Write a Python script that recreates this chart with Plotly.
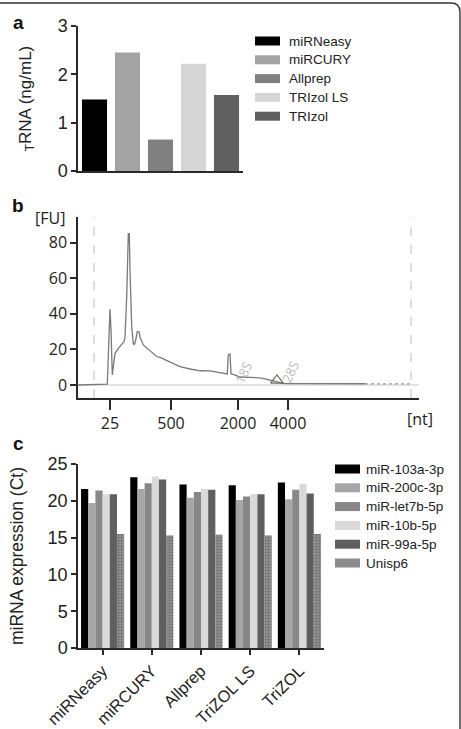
import plotly.graph_objects as go

W, H = 461, 729
def X(px): return px / W
def Y(py): return 1 - py / H

# ---------------- Panel a data ----------------
a_methods = ["miRNeasy", "miRCURY", "Allprep", "TRIzol LS", "TRIzol"]
a_values = [1.48, 2.45, 0.65, 2.22, 1.57]
a_colors = ["#000000", "#a3a3a3", "#808080", "#d6d6d6", "#606060"]

# ---------------- Panel b data (electropherogram) ----------------
b_pos = [0, 29.3, 32, 33, 34.3, 37, 40.3, 46, 47, 48.7, 50.3, 51.3, 52, 53, 53.7, 55.3, 56.3,
         57.7, 59.3, 61, 62, 65.3, 72, 78.7, 82, 92, 102, 112, 122, 132, 142, 149.3, 150.3,
         152, 153, 156, 162, 172, 182, 187, 193, 200, 206, 287]
b_fu = [0, 0.5, 42.5, 31, 5.6, 17.8, 20.6, 24.3, 27, 49.6, 85, 85, 64.6, 40, 32.8, 23.4, 22.5,
        25.3, 30, 30, 27, 22.5, 19, 16, 15.5, 13.1, 10.3, 9, 8, 7.9, 7.1, 6.2, 16.9,
        17.4, 6.2, 5.8, 4.5, 4.3, 4, 3.4, 2.5, 1.5, 0.8, 0.7]
b_tail_pos = [287, 312, 333]
b_tail_fu = [0.6, 0.6, 0.6]
b_range = [0, 341]
b_ladder_pos = [32, 93, 160, 210]
b_ladder_text = ["25", "500", "2000", "4000"]
b_minor_pos = [67, 125]
b_peak_pos = [152, 199]
b_dashed_pos = [16, 333]
b_marker_pos = [199]
b_marker_fu = [2.6]
b_label_text = ["18S", "28S"]
b_label_pos = [165, 212]
b_label_fu = [7.0, 7.5]

# ---------------- Panel c data ----------------
c_methods = ["miRNeasy", "miRCURY", "Allprep", "TriZOL LS", "TriZOL"]
c_series = ["miR-103a-3p", "miR-200c-3p", "miR-let7b-5p", "miR-10b-5p", "miR-99a-5p", "Unisp6"]
c_values = [
    [21.6, 23.2, 22.2, 22.1, 22.5],
    [19.7, 21.6, 20.4, 20.1, 20.2],
    [21.4, 22.4, 21.2, 20.6, 21.5],
    [20.9, 23.3, 21.6, 20.9, 22.3],
    [20.9, 22.9, 21.5, 20.9, 21.0],
    [15.5, 15.3, 15.4, 15.3, 15.5],
]
c_colors = ["#000000", "#a6a6a6", "#878787", "#d9d9d9", "#5f5f5f", "#8c8c8c"]

AF = "Liberation Sans, Arial, sans-serif"
BF = "Open Sans, DejaVu Sans, sans-serif"
TXT = "#222222"
AX = "#2a2a2a"

fig = go.Figure()

# Panel a bars
for name, v, col in zip(a_methods, a_values, a_colors):
    fig.add_trace(go.Bar(x=[name], y=[v], name=name, marker=dict(color=col, line=dict(width=0)),
                         width=0.76, offsetgroup="a", xaxis="x", yaxis="y", showlegend=False))

# Panel b
fig.add_trace(go.Scatter(x=b_range, y=[0, 0], mode="lines", line=dict(color="#c8c8c8", width=1.2),
                         xaxis="x2", yaxis="y2", showlegend=False, hoverinfo="skip"))
fig.add_trace(go.Scatter(x=b_pos, y=b_fu, mode="lines", line=dict(color="#7a7a7a", width=1.3),
                         xaxis="x2", yaxis="y2", showlegend=False))
fig.add_trace(go.Scatter(x=b_tail_pos, y=b_tail_fu, mode="lines",
                         line=dict(color="#9a9a9a", width=1.2, dash="dot"),
                         xaxis="x2", yaxis="y2", showlegend=False))
fig.add_trace(go.Scatter(x=b_marker_pos, y=b_marker_fu, mode="markers",
                         marker=dict(symbol="triangle-up-open", size=11, color="#6a6a6a",
                                     line=dict(width=1.2)),
                         xaxis="x2", yaxis="y2", showlegend=False))

# Panel c bars
ng = len(c_series)
bw = 0.146
for i, (name, vals, col) in enumerate(zip(c_series, c_values, c_colors)):
    marker = dict(color=col, line=dict(width=0))
    if name == "Unisp6":
        marker["pattern"] = dict(shape=".", fgcolor="#6a6a6a", bgcolor="#939393", size=3, solidity=0.4)
    fig.add_trace(go.Bar(x=c_methods, y=vals, name=name, marker=marker, width=bw,
                         offset=-ng * bw / 2 + i * bw, xaxis="x3", yaxis="y3", showlegend=False))

shapes = []
annotations = []

def note(text, px, py, size, family=AF, color=TXT, xanchor="center"):
    annotations.append(dict(text=text, xref="paper", yref="paper", x=X(px), y=Y(py),
                            xanchor=xanchor, yanchor="middle", showarrow=False,
                            font=dict(family=family, size=size, color=color)))

# Custom legends
def legend(names, colors, x_sw, x_txt, row0, step):
    for i, (n, c) in enumerate(zip(names, colors)):
        r = row0 + i * step
        shapes.append(dict(type="rect", xref="paper", yref="paper", x0=X(x_sw), x1=X(x_sw + 25),
                           y0=Y(r + 4.5), y1=Y(r - 4.5), fillcolor=c, line=dict(width=0)))
        note(n, x_txt, r, 13.5, xanchor="left")

legend(a_methods, a_colors, 255, 287, 41, 18.8)
legend(c_series, c_colors, 335, 364, 469, 18.8)

# dashed lines in b
for p in b_dashed_pos:
    shapes.append(dict(type="line", xref="x2", yref="y2 domain", x0=p, x1=p, y0=0, y1=1,
                       line=dict(color="#bdbdbd", width=1, dash="dash")))

# 18S / 28S labels
for t, p, v in zip(b_label_text, b_label_pos, b_label_fu):
    annotations.append(dict(text=t, xref="x2", yref="y2", x=p, y=v, showarrow=False, textangle=-65,
                            font=dict(family=BF, size=13, color="#bdbdbd")))

# border
shapes.append(dict(type="path", xref="paper", yref="paper",
                   path=f"M {X(0)},{Y(3)} L {X(451)},{Y(3)} Q {X(460)},{Y(3)} {X(460)},{Y(12)} L {X(460)},{Y(730)}",
                   line=dict(color="#333333", width=1.4)))

# panel letters
for t, px, py in [("a", 18, 22), ("b", 18, 206), ("c", 18, 443)]:
    note(f"<b>{t}</b>", px, py, 19, color="#111111")

note("[FU]", 50, 218, 16, family=BF)
note("[nt]", 420, 419, 16, family=BF)

axcommon = dict(showgrid=False, zeroline=False, showline=True, linecolor=AX, linewidth=1.5,
                tickcolor=AX, tickwidth=1.5, automargin=False)
overlay_ticks = dict(showticklabels=False, showgrid=False, zeroline=False, showline=False,
                     tickcolor=AX, tickwidth=1.5, automargin=False)

fig.update_layout(
    template="none",
    width=W, height=H, margin=dict(l=0, r=0, t=0, b=0, pad=0, autoexpand=False),
    paper_bgcolor="white", plot_bgcolor="white",
    barmode="group", showlegend=False,
    shapes=shapes, annotations=annotations,
    xaxis=dict(domain=[X(78), X(243)], anchor="y", type="category", range=[-0.5, 4.5],
               ticks="", showticklabels=False, **axcommon),
    yaxis=dict(domain=[Y(171), Y(26)], anchor="x", range=[0, 3], tickvals=[0, 1, 2, 3],
               ticks="outside", ticklen=5, tickfont=dict(family=AF, size=18, color=TXT),
               title=dict(text="<sub>T</sub>RNA (ng/mL)", font=dict(family=AF, size=17, color=TXT),
                          standoff=22), **axcommon),
    xaxis2=dict(domain=[X(78), X(419)], anchor="y2", range=b_range, tickvals=b_ladder_pos,
                ticktext=b_ladder_text, ticks="outside", ticklen=10,
                tickfont=dict(family=BF, size=16, color=TXT), **axcommon),
    xaxis4=dict(domain=[X(78), X(419)], anchor="y2", overlaying="x2", range=b_range,
                tickvals=b_peak_pos, ticks="inside", ticklen=7, **overlay_ticks),
    xaxis5=dict(domain=[X(78), X(419)], anchor="y2", overlaying="x2", range=b_range,
                tickvals=b_minor_pos, ticks="outside", ticklen=10, **overlay_ticks),
    yaxis2=dict(domain=[Y(398), Y(217)], anchor="x2", range=[-7.3, 94.4], tickvals=[0, 20, 40, 60, 80],
                ticks="outside", ticklen=6, tickfont=dict(family=BF, size=16, color=TXT), **axcommon),
    xaxis3=dict(domain=[X(78), X(324)], anchor="y3", type="category", range=[-0.5, 4.5],
                ticks="outside", ticklen=5, tickangle=-45,
                tickfont=dict(family=AF, size=16.5, color=TXT), **axcommon),
    yaxis3=dict(domain=[Y(648), Y(464)], anchor="x3", range=[0, 25], tickvals=[0, 5, 10, 15, 20, 25],
                ticks="outside", ticklen=5, tickfont=dict(family=AF, size=18, color=TXT),
                title=dict(text="miRNA expression (Ct)", font=dict(family=AF, size=17.5, color=TXT),
                           standoff=19), **axcommon),
)

fig.write_html("out.html")
